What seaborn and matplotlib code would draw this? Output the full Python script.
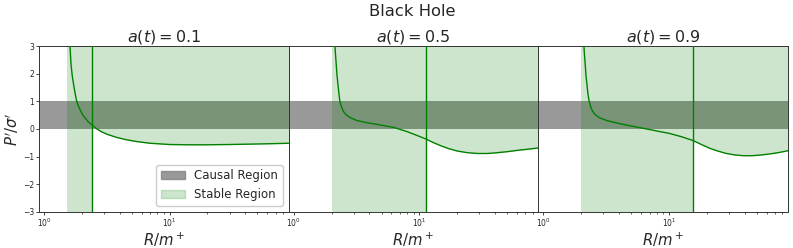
import matplotlib
matplotlib.use('Agg')
import matplotlib.pyplot as plt
import seaborn as sns
from matplotlib.patches import Patch

# values
a_values = [0.1, 0.5, 0.9]

r_01 = [1.61, 1.64, 1.68, 1.72, 1.77, 1.82, 1.89, 1.96, 2.04, 2.12, 2.25, 2.41, 2.6, 2.85,
        3.2, 3.8, 4.5, 5.5, 7, 10, 14, 20, 30, 45, 65, 88.5]
p_01 = [3.0, 2.34, 1.9, 1.61, 1.28, 1.0, 0.8, 0.64, 0.5, 0.4, 0.26, 0.14, 0.02, -0.1,
        -0.2, -0.31, -0.39, -0.46, -0.52, -0.565, -0.575, -0.575, -0.565, -0.55, -0.535, -0.52]

r_05 = [2.13, 2.15, 2.18, 2.21, 2.25, 2.29, 2.33, 2.40, 2.48, 2.6, 2.84, 3.2, 3.87, 4.8, 6.3,
        8.0, 9.5, 11.2, 13, 15, 17, 20, 24, 29, 35, 42, 51, 62, 75, 88.5]
p_05 = [3.0, 2.7, 2.34, 1.95, 1.61, 1.28, 1.0, 0.8, 0.64, 0.52, 0.4, 0.3, 0.22, 0.15, 0.05,
        -0.1, -0.23, -0.36, -0.5, -0.62, -0.71, -0.8, -0.86, -0.89, -0.89, -0.86, -0.82, -0.77, -0.73, -0.69]

r_09 = [2.1, 2.12, 2.15, 2.18, 2.22, 2.26, 2.31, 2.38, 2.46, 2.58, 2.8, 3.2, 3.8, 4.8, 6.6,
        8.5, 10, 12.5, 15.5, 18, 21, 24, 28, 33, 39, 46, 55, 65, 76, 88.5]
p_09 = [3.0, 2.7, 2.34, 1.95, 1.61, 1.28, 1.0, 0.8, 0.64, 0.52, 0.4, 0.3, 0.22, 0.12, 0.0,
        -0.1, -0.16, -0.28, -0.42, -0.56, -0.7, -0.79, -0.88, -0.94, -0.97, -0.97, -0.94, -0.9, -0.85, -0.79]

# stable region: full band from stable_lo to split, then above the curve
stable_lo = [1.53, 2.0, 1.98]
split = [2.41, 11.2, 15.5]

radii = [r_01, r_05, r_09]
pressures = [p_01, p_05, p_09]

sns.set_style('ticks')
plt.rcParams['font.family'] = ['DejaVu Sans']

fig, axes = plt.subplots(1, 3, figsize=(7.93, 2.48), dpi=100, sharey=True)
fig.subplots_adjust(left=0.049, right=0.9937, top=0.8145, bottom=0.146, wspace=0)

for i, ax in enumerate(axes):
    r = radii[i]
    p = pressures[i]
    ax.axhspan(0, 1, color='grey', alpha=0.8, lw=0, zorder=1)
    ax.axvspan(stable_lo[i], split[i], color='green', alpha=0.2, lw=0, zorder=2)
    r_hi = [x for x in r if x >= split[i]]
    p_hi = [y for x, y in zip(r, p) if x >= split[i]]
    ax.fill_between(r_hi, p_hi, 3, color='green', alpha=0.2, lw=0, zorder=2)
    sns.lineplot(x=r, y=p, ax=ax, color='green', lw=1, estimator=None, sort=False, zorder=4)
    ax.axvline(split[i], color='green', lw=1, zorder=4)
    ax.set_xscale('log')
    ax.set_xlim(0.91, 88.5)
    ax.set_ylim(-3, 3)
    ax.set_title(f'$a(t) = {a_values[i]}$', fontsize=11.5, pad=3)
    ax.set_xlabel('$R/m^+$', fontsize=10.7, labelpad=1.5)
    ax.tick_params(which='major', labelsize=5.5, length=2.5, width=0.6, pad=1)
    ax.tick_params(which='minor', length=1.5, width=0.5)
    for s in ax.spines.values():
        s.set_linewidth(0.7)
        s.set_color('#333333')
    if i > 0:
        ax.tick_params(axis='y', left=False)

axes[0].set_ylabel("$P'/\\sigma'$", fontsize=10.7, labelpad=1)
axes[0].set_yticks([-3, -2, -1, 0, 1, 2, 3])

handles = [Patch(color='grey', alpha=0.8, label='Causal Region'),
           Patch(color='green', alpha=0.2, label='Stable Region')]
axes[0].legend(handles=handles, loc='lower right', fontsize=8.5, framealpha=1)

fig.suptitle('Black Hole', fontsize=11.8, x=0.52, y=0.985)

fig.savefig('out.png', dpi=100)
